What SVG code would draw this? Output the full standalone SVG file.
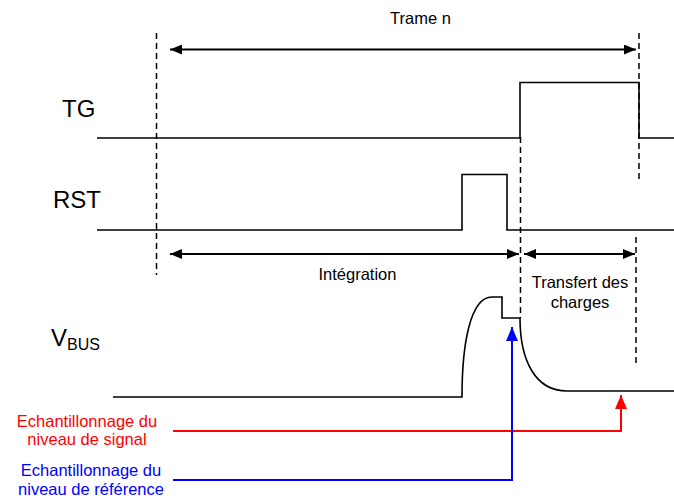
<svg xmlns="http://www.w3.org/2000/svg" width="674" height="501" viewBox="0 0 674 501">
<style>
.sig{fill:none;stroke:#000;stroke-width:1.6}
.dash{fill:none;stroke:#000;stroke-width:1.5;stroke-dasharray:6,4}
.arr{fill:none;stroke:#000;stroke-width:2.2}
.t{font-family:"Liberation Sans",Arial,sans-serif;fill:#000}
.s{font-size:16.5px}
.big{font-size:24px}
</style>
<defs>
<marker id="ah" viewBox="0 0 12 10" refX="12" refY="5" markerWidth="12" markerHeight="10" markerUnits="userSpaceOnUse" orient="auto-start-reverse">
<path d="M0,0L12,5L0,10z" fill="#000"/>
</marker>
<marker id="ahr" viewBox="0 0 14 12" refX="14" refY="6" markerWidth="14" markerHeight="12" markerUnits="userSpaceOnUse" orient="auto">
<path d="M0,0L14,6L0,12z" fill="#f00"/>
</marker>
<marker id="ahb" viewBox="0 0 14 12" refX="14" refY="6" markerWidth="14" markerHeight="12" markerUnits="userSpaceOnUse" orient="auto">
<path d="M0,0L14,6L0,12z" fill="#00f"/>
</marker>
</defs>
<rect width="674" height="501" fill="#fff"/>
<g id="connectors">
<line class="dash" x1="156.5" y1="33" x2="156.5" y2="275"/>
<line class="dash" x1="520.5" y1="137" x2="520.5" y2="318"/>
<line class="dash" x1="639" y1="33" x2="639" y2="182"/>
<line class="dash" x1="636" y1="237" x2="636" y2="366"/>
<line class="arr" x1="170" y1="49.5" x2="636" y2="49.5" marker-start="url(#ah)" marker-end="url(#ah)"/>
<line class="arr" x1="170" y1="254" x2="519" y2="254" marker-start="url(#ah)" marker-end="url(#ah)"/>
<line class="arr" x1="524" y1="254" x2="635" y2="254" marker-start="url(#ah)" marker-end="url(#ah)"/>
<polyline points="173,431 621,431 621,395" fill="none" stroke="#f00" stroke-width="2" marker-end="url(#ahr)"/>
<polyline points="173,480 512,480 512,327" fill="none" stroke="#00f" stroke-width="2" marker-end="url(#ahb)"/>
</g>
<g id="trame">
<text class="t s" x="420.5" y="23.5" text-anchor="middle">Trame n</text>
</g>
<g id="tg">
<text class="t big" x="62" y="117">TG</text>
<polyline class="sig" points="97,138 520,138 520,82.5 639,82.5 639,138 674,138"/>
</g>
<g id="rst">
<text class="t big" x="53" y="207.5">RST</text>
<polyline class="sig" points="97,230 462,230 462,174.5 507,174.5 507,230 674,230"/>
</g>
<g id="integration">
<text class="t s" x="357.5" y="279.5" text-anchor="middle">Intégration</text>
</g>
<g id="transfert">
<text class="t s" x="580" y="288" text-anchor="middle">Transfert des</text>
<text class="t s" x="580" y="307.5" text-anchor="middle">charges</text>
</g>
<g id="vbus">
<text class="t big" x="51" y="346">V<tspan font-size="16" dy="4">BUS</tspan></text>
<path class="sig" d="M113,397 H462 C462,345 470,297 492,297 H502 V318 H520 C520,360 535,391 567,391 H674"/>
</g>
<g id="signal-label">
<text class="t s" fill="#f00" style="fill:#f00" x="87" y="426.5" text-anchor="middle">Echantillonnage du</text>
<text class="t s" style="fill:#f00" x="87" y="444.5" text-anchor="middle">niveau de signal</text>
</g>
<g id="reference-label">
<text class="t s" style="fill:#00f" x="91" y="476" text-anchor="middle">Echantillonnage du</text>
<text class="t s" style="fill:#00f" x="91" y="495" text-anchor="middle">niveau de référence</text>
</g>
</svg>
